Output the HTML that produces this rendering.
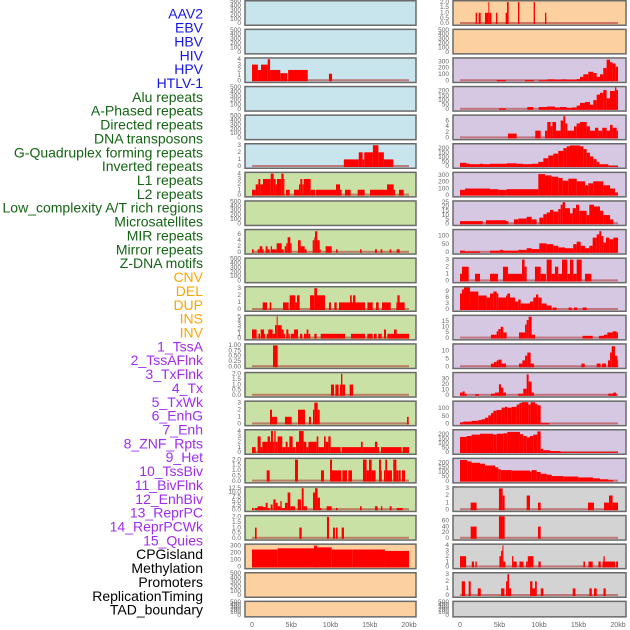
<!DOCTYPE html>
<html><head><meta charset="utf-8"><style>
html,body{margin:0;padding:0;background:#fff;width:630px;height:630px;overflow:hidden}
svg{display:block;font-family:"Liberation Sans",sans-serif}
</style></head><body>
<svg id="chart" width="630" height="630" viewBox="0 0 630 630"></svg>
<script>
const trackNames=["AAV2","EBV","HBV","HIV","HPV","HTLV-1","Alu repeats","A-Phased repeats","Directed repeats","DNA transposons","G-Quadruplex forming repeats","Inverted repeats","L1 repeats","L2 repeats","Low_complexity A/T rich regions","Microsatellites","MIR repeats","Mirror repeats","Z-DNA motifs","CNV","DEL","DUP","INS","INV","1_TssA","2_TssAFlnk","3_TxFlnk","4_Tx","5_TxWk","6_EnhG","7_Enh","8_ZNF_Rpts","9_Het","10_TssBiv","11_BivFlnk","12_EnhBiv","13_ReprPC","14_ReprPCWk","15_Quies","CPGisland","Methylation","Promoters","ReplicationTiming","TAD_boundary"];
const trackGroups=[0,0,0,0,0,0,1,1,1,1,1,1,1,1,1,1,1,1,1,2,2,2,2,2,3,3,3,3,3,3,3,3,3,3,3,3,3,3,3,4,4,4,4,4];
const xTicks=[0,5,10,15,20];
const xTickLabels=["0","5kb","10kb","15kb","20kb"];
// segments: [startKb, endKb, value]
const L2=[[0,0.75,3],[0.75,1.15,2],[1.15,2,3],[2,2.3,4],[2.3,3.6,2],[3.6,4.5,1.4],[4.6,7.1,2],[9.8,10.2,1.3]];
const L5=[[11.7,13.6,1],[13.6,14.1,2],[14.1,14.3,1],[14.3,15.4,2],[15.4,16.1,3],[16.1,16.8,2],[16.8,18,1]];
const L6=[[0,0.47,1],[0.47,0.81,2],[0.81,1.06,3],[1.06,1.4,2],[1.4,2.38,3],[2.38,2.76,4],[2.76,3.02,3],[3.02,3.18,2],[3.18,3.74,3],[3.74,4.03,4],[4.03,4.12,3],[4.33,4.8,1],[5.35,5.99,1],[5.99,6.16,2],[6.16,6.41,3],[6.41,6.58,2],[6.58,7.47,3],[7.47,8.03,1],[8.15,10.7,1],[10.7,11.21,2],[11.21,11.42,1],[11.85,12.57,1],[13.46,14.35,1],[15.03,17.2,1],[17.2,18.05,2],[18.05,18.22,1],[18.73,19.32,1]];
const L8=[[0,0.21,1],[0.72,0.98,1],[0.98,1.32,2],[1.32,1.49,1],[1.74,1.99,2],[1.99,2.25,1],[2.38,2.55,2],[2.55,3.14,1],[3.14,3.78,3],[3.78,4.03,1],[4.16,4.37,2],[4.37,4.54,3],[4.54,4.88,5],[4.88,5.05,3],[5.86,6.2,4],[6.2,6.71,2],[6.71,6.96,1],[7.73,7.94,4],[7.94,8.03,5],[8.03,8.32,7],[8.32,8.62,4],[8.62,8.75,1],[9.38,10.15,2],[10.7,10.91,1],[13.76,13.97,1],[15.67,15.92,1],[16.39,16.6,1],[17.54,17.75,1],[18.43,18.81,1]];
const L10=[[1.36,1.91,1],[2.25,2.46,1],[3.95,4.67,1],[4.8,5.52,2],[5.52,5.73,1],[5.73,6.07,2],[7.39,7.94,2],[7.94,8.28,3],[8.28,8.66,2],[8.66,9.3,2],[9.81,10.06,1],[10.49,10.79,1],[11.08,12.87,1],[12.49,12.7,2],[12.87,14.4,1],[12.87,13.17,2],[14.7,15.38,1],[15.8,16.14,1],[16.56,17.67,1],[18.39,19.45,1],[18.52,18.81,2]];
const L11=[[0,0.59,2],[0.81,1.02,1],[1.1,1.53,2],[1.53,1.66,1],[1.87,2.08,1],[2.08,2.63,2],[2.63,2.93,1],[2.93,3.14,3],[3.14,3.27,5],[3.27,3.78,3],[3.78,4.03,2],[4.03,4.2,1],[4.37,4.63,2],[4.63,4.8,1],[4.93,5.35,1],[5.35,5.86,2],[6.11,6.41,1],[6.62,6.96,1],[6.96,7.18,2],[7.18,7.43,1],[7.94,8.24,1],[8.75,11.85,1],[12.61,14.4,1],[14.69,15.37,1],[15.54,15.88,1],[16.09,16.52,1],[16.81,17.07,2],[17.24,17.79,1],[17.79,20,1],[18.09,18.43,2]];
const L12=[[2.68,3.27,1]];
const L13=[[10.06,10.45,1],[10.62,11.04,1],[11.21,11.34,1],[11.34,11.51,2],[11.51,11.85,1],[12.44,12.87,1]];
const L14=[[2.29,2.55,2],[2.55,2.8,1],[2.8,3.18,1],[4.2,5.05,1],[5.86,6.75,2],[7.26,7.52,1],[7.77,7.94,2],[7.94,8.37,3],[8.37,8.62,2],[19.75,19.96,1]];
const L15=[[0,0.47,1],[0.72,1.1,3],[1.1,1.32,1],[1.32,1.99,2],[1.99,2.29,3],[2.29,2.42,2],[2.42,2.67,4],[2.67,2.84,2],[2.84,3.01,4],[3.01,3.27,2],[3.27,3.86,3],[3.86,4.29,1],[4.29,4.54,2],[4.54,4.76,1],[4.76,5.18,3],[5.18,5.56,1],[5.6,5.99,2],[5.99,6.58,4],[6.58,6.92,2],[6.92,7.18,1],[7.18,8.24,2],[8.24,8.45,3],[8.45,9.17,1],[9.17,9.38,3],[9.38,9.72,2],[9.72,10.02,3],[10.02,11.29,1],[11.42,13.88,1],[13.88,14.1,2],[14.1,15.67,1],[15.67,15.97,2],[15.97,16.18,1],[16.43,19.06,1],[19.19,20,1]];
const L16=[[1.87,2.25,1],[5.48,5.86,2],[8.79,9.17,1],[9.94,10.19,2],[10.19,11.38,1],[11.51,12.1,1],[12.27,12.74,1],[14.14,14.6,2],[14.6,14.9,1],[14.9,15.24,2],[15.24,15.75,1],[16.18,16.43,2],[16.43,16.52,1],[16.81,16.98,1],[16.98,17.2,2],[17.2,17.83,1],[18.0,18.39,2],[18.39,18.64,1],[18.68,18.94,1],[19.11,19.49,1]];
const L17=[[0,0.21,1],[0.38,0.72,1],[0.72,1.4,2],[1.4,1.74,1.5],[1.74,1.99,4],[1.99,2.25,1],[2.38,2.63,3],[2.72,3.01,6],[3.01,3.27,4],[3.27,3.61,2],[3.61,3.78,5],[3.78,4.2,1],[4.2,4.54,4],[4.54,4.88,10],[4.88,5.48,2],[5.82,6.24,6],[6.33,6.58,12.5],[6.58,7.01,2],[7.77,8.03,10],[8.03,8.36,12.5],[8.36,8.66,7],[8.66,8.79,1],[9.51,10.15,2],[10.7,10.91,1],[13.76,13.97,2],[15.67,16.01,2],[16.43,16.6,2],[17.54,17.79,2],[18.43,19.19,1]];
const L18=[[0.38,0.59,1],[6.03,6.33,1],[9.55,9.81,2],[10.32,10.57,1],[10.7,10.91,1],[11.42,11.72,1]];
const L19=[[0,3.27,245],[3.27,8.15,262],[8.15,10.15,275],[7.9,8.3,300],[10.15,12.78,245],[12.78,16.94,245],[16.94,20,225]];
const R0=[[1.98,2.15,1],[2.36,2.62,1],[3.16,3.59,1],[3.59,3.71,2],[3.71,3.97,1],[4.56,4.73,1],[5.78,5.95,1],[5.95,6.16,2],[7.34,7.51,2],[9.32,9.49,2],[10.76,10.93,1]];
const R2=[[4.64,5.82,10],[8.23,9.36,10],[9.96,10.55,8],[10.55,11.05,8],[11.05,12.02,20],[12.02,12.87,15],[12.87,13.5,20],[13.5,14.77,15],[14.77,15.19,25],[15.19,15.61,60],[15.61,16.24,100],[16.24,16.87,140],[16.87,17.3,120],[17.3,17.72,60],[17.72,18.14,100],[18.14,18.56,200],[18.56,18.99,330],[18.99,19.32,290],[19.32,19.7,270],[19.7,20,220]];
const R3=[[4.93,5.82,10],[8.52,9.28,25],[9.96,10.97,25],[10.97,12.02,30],[12.02,12.65,20],[12.65,13.5,25],[13.5,14.13,15],[14.13,14.77,20],[14.77,15.19,40],[15.19,15.82,70],[15.82,16.45,80],[16.45,16.87,50],[16.87,17.3,100],[17.3,17.72,160],[17.72,18.14,180],[18.14,18.56,210],[18.56,18.99,120],[18.99,19.62,200],[19.62,19.8,240],[19.8,20,210]];
const R4=[[6.07,7.17,1.5],[9.53,10.21,2.5],[10.76,11.05,2.5],[11.05,11.47,5.5],[11.47,11.69,4],[11.69,12.15,5.5],[12.15,12.74,2.5],[12.74,13.08,6],[13.08,13.33,7.5],[13.33,13.58,5],[13.58,14.43,2.5],[14.43,14.77,4],[14.77,15.19,5],[15.19,16.03,5.5],[16.03,16.45,4],[16.45,17.09,2.5],[17.09,17.51,3.5],[17.51,18.01,2.5],[18.01,18.56,3.5],[18.56,18.99,2.5],[18.99,19.32,4.5],[19.32,19.83,3.5],[19.83,20,2.5]];
const R5=[[0,0.84,40],[0.84,1.26,30],[1.26,2.53,25],[2.53,2.95,30],[2.95,3.8,25],[3.8,5.9,30],[5.9,7.17,35],[7.17,8.01,30],[8.01,9.07,25],[9.07,9.91,30],[9.91,10.55,50],[10.55,11.18,90],[11.18,11.81,120],[11.81,12.44,140],[12.44,13.08,170],[13.08,13.5,200],[13.5,13.92,220],[13.92,15.19,230],[15.19,15.61,220],[15.61,16.03,190],[16.03,16.45,150],[16.45,16.87,110],[16.87,17.3,80],[17.3,17.63,50],[17.63,18.77,25],[18.77,20,5]];
const R6=[[0,0.63,80],[0.63,3.8,100],[3.8,4.85,90],[4.85,5.9,80],[5.9,9.91,90],[9.91,10.76,320],[10.76,11.6,300],[11.6,12.44,280],[12.44,12.99,260],[12.99,13.71,220],[13.71,14.77,250],[14.77,15.82,210],[15.82,16.24,150],[16.24,16.87,180],[16.87,18.14,210],[18.14,18.99,150],[18.99,19.62,100],[19.62,20,40]];
const R7=[[0,2.87,3],[3.29,5.82,4],[5.82,6.12,3],[6.83,7.38,5],[7.38,8.44,6],[8.44,9.07,8],[9.07,9.7,5],[10.04,10.55,7],[10.55,10.97,11],[10.97,11.39,13],[11.39,11.81,16],[11.81,12.44,14],[12.44,12.74,17],[12.74,12.99,22],[12.99,13.29,25],[13.29,13.92,18],[13.92,14.26,12],[14.26,14.68,18],[14.68,15.1,22],[15.1,16.03,15],[16.03,16.37,10],[16.37,16.96,22],[16.96,17.72,20],[17.72,18.14,15],[18.14,18.99,10],[18.99,19.41,5]];
const R8=[[0,0.63,10],[0.63,2.53,5],[3.8,5.06,10],[5.06,5.48,15],[5.48,7.38,10],[7.38,8.44,15],[8.44,9.07,25],[9.07,10.04,20],[10.04,10.97,55],[10.97,11.81,50],[11.81,12.44,40],[12.44,13.29,30],[13.29,14.34,25],[14.34,14.77,50],[14.77,15.27,65],[15.27,15.82,40],[15.82,16.37,25],[16.37,16.79,40],[16.79,17.3,90],[17.3,17.63,110],[17.63,17.89,130],[17.89,18.14,100],[18.14,18.48,60],[18.48,18.9,90],[18.9,19.41,80],[19.41,20,90]];
const R9=[[0,0.25,1],[0.25,1.1,2],[1.9,2.53,1],[3.8,4.8,1],[5.44,6.07,2],[6.07,7.85,1],[7.85,8.18,3],[8.18,8.44,2],[9.49,10.21,2],[10.21,10.88,1],[10.97,11.6,3],[11.6,12.02,1],[12.02,12.44,2],[12.44,12.91,1],[12.91,13.58,3],[13.58,13.92,1],[13.92,14.34,3],[14.34,14.77,1],[14.77,15.4,3],[15.82,16.62,1]];
const R10=[[0,0.25,8],[0.25,0.5,10],[0.5,1.26,11],[1.26,2.32,9],[2.32,3.37,7],[3.37,3.8,6],[3.8,4.22,8],[4.22,4.64,9],[4.64,4.85,8],[4.85,5.82,6],[5.82,5.99,7],[5.99,6.33,8],[6.33,6.96,6],[6.96,7.38,4],[7.38,7.68,5],[7.68,8.86,3],[8.86,9.28,4],[9.28,9.62,6],[9.62,9.91,7.5],[9.91,10.33,6],[10.33,10.97,3],[10.97,11.6,2],[11.73,12.23,1],[13.75,14.13,1],[14.43,14.85,1],[15.52,16.03,1]];
const R11=[[3.92,4.64,3],[4.64,4.85,6],[4.85,5.15,8],[5.15,5.48,10],[5.48,5.9,5],[7.47,8.23,5],[8.23,8.44,12],[8.44,8.69,16],[8.69,9.07,19],[9.07,9.49,3],[15.52,16.79,2],[17.59,18.23,2],[18.23,18.65,3],[18.65,19.32,5],[19.32,19.83,6],[19.83,20,5]];
const R12=[[3.92,4.3,2],[4.3,4.64,3],[4.64,4.85,4],[4.85,5.27,4.5],[5.27,5.82,2],[7.47,7.89,2],[7.89,8.23,4],[8.23,8.52,7],[8.52,8.94,9],[8.94,9.36,2],[15.36,15.78,2],[17.3,17.8,2],[17.97,18.48,2],[18.73,18.99,4],[18.99,19.2,9],[19.2,19.62,13],[19.62,19.91,7],[19.91,20,4]];
const R13=[[0,0.33,5],[0.33,0.59,7],[0.59,0.84,3],[1.9,2.4,2],[3.92,4.43,3],[4.43,4.93,5],[4.93,5.19,20],[5.19,5.48,14],[5.48,5.82,5],[7.38,8.01,3],[8.01,8.44,12],[8.44,8.69,38],[8.69,9.07,25],[9.07,9.36,5],[18.77,19.83,3],[19.41,19.74,5]];
const R14=[[0,0.42,10],[0.42,1.47,15],[1.47,2.32,20],[2.32,2.74,25],[2.74,3.16,30],[3.16,3.58,40],[3.58,3.92,55],[3.92,4.22,70],[4.22,4.64,85],[4.64,5.27,90],[5.27,5.69,105],[5.69,5.99,110],[5.99,6.54,105],[6.54,7.17,110],[7.17,7.51,125],[7.51,7.8,135],[7.8,8.65,140],[8.65,8.94,125],[8.94,9.49,140],[9.49,9.79,130],[9.79,10.21,120],[10.21,11.31,5]];
const R15=[[0,0.84,170],[0.84,1.47,180],[1.47,2.53,195],[2.53,4.22,205],[4.22,4.64,195],[4.64,5.48,205],[5.48,5.99,210],[5.99,7.59,225],[7.59,8.01,200],[8.01,8.44,180],[8.44,8.86,165],[8.86,9.28,180],[9.28,9.79,195],[9.79,10.21,230],[10.21,10.55,40],[10.55,11.39,25],[11.39,12.74,15],[12.74,20,3]];
const R16=[[0,0.93,230],[0.93,1.47,215],[1.47,2.53,200],[2.53,3.16,190],[3.16,4.43,170],[4.43,4.85,150],[4.85,5.15,130],[5.15,6.54,120],[6.54,8.86,115],[8.86,9.07,105],[9.07,9.7,120],[9.7,10.21,100],[10.21,10.97,80],[10.97,11.6,70],[11.6,13.08,55],[13.08,14.98,50],[14.98,16.87,40],[16.87,17.72,30],[17.72,18.77,20],[18.77,19.41,10]];
const R17=[[1.35,2.1,1],[4.93,5.4,3],[5.4,5.65,2],[8.44,8.86,2],[9.87,10.21,1],[16.2,16.96,1],[18.23,18.86,1],[18.86,19.32,2],[19.32,20,1]];
const R18=[[1.35,2.1,40],[4.93,5.65,75],[9.87,10.21,40]];
const R19=[[0,0.77,2],[1.49,1.78,1],[1.95,2.12,1],[4.99,5.2,2],[5.2,5.37,3],[5.37,5.5,4],[5.5,5.75,1],[6.59,6.76,2],[6.76,7.18,1],[7.52,8.03,1],[8.37,8.58,1],[8.58,9.29,2],[9.93,10.22,1],[15.62,15.83,1],[16.26,16.8,1],[17.52,17.82,1],[18.16,18.32,2],[18.03,19.63,1],[19.76,20,1]];
const R20=[[0.22,0.64,2],[1.1,1.36,2],[2.25,2.63,1],[5.2,5.62,1],[5.83,6.0,2],[6.0,6.21,3],[6.21,6.47,1],[8.87,9.17,2],[9.17,9.5,1],[9.5,9.72,2],[10.22,10.56,1],[14.27,14.61,1],[16.38,16.68,1],[16.97,17.31,1],[18.16,18.45,1]];
const EMPTY_T=[0,100,200,300,400,500];
const T3=[0,1,2,3], T4=[0,1,2,3,4], T5=[0,1,2,3,4,5], T2h=[0,0.5,1,1.5,2];
// [segments, bg, ymax, ticks, decimals]
const leftPanels=[[null,"b",500,EMPTY_T,0],[null,"b",500,EMPTY_T,0],[L2,"b",4.1,T4,0],[null,"b",500,EMPTY_T,0],[null,"b",500,EMPTY_T,0],[L5,"b",3.1,T3,0],[L6,"g",4.1,T4,0],[null,"g",500,EMPTY_T,0],[L8,"g",7.3,[0,2,4,6],0],[null,"g",500,EMPTY_T,0],[L10,"g",3.1,T3,0],[L11,"g",5.1,T5,0],[L12,"g",1.03,[0,0.25,0.5,0.75,1],2],[L13,"g",2.05,T2h,1],[L14,"g",3.1,T3,0],[L15,"g",4.1,T4,0],[L16,"g",2.05,T2h,1],[L17,"g",12.8,[0,2.5,5,7.5,10,12.5],1],[L18,"g",2.05,T2h,1],[L19,"o",310,[0,100,200,300],0],[null,"o",500,EMPTY_T,0],[null,"o",500,EMPTY_T,0]];
const rightPanels=[[R0,"o",2.05,T2h,1],[null,"o",500,EMPTY_T,0],[R2,"p",345,[0,100,200,300],0],[R3,"p",240,[0,50,100,150,200],0],[R4,"p",7.6,[0,2,4,6],0],[R5,"p",240,[0,50,100,150,200],0],[R6,"p",335,[0,100,200,300],0],[R7,"p",25.5,[0,5,10,15,20,25],0],[R8,"p",135,[0,50,100],0],[R9,"p",3.1,T3,0],[R10,"p",11,[0,3,6,9],0],[R11,"p",19.5,[0,5,10,15],0],[R12,"p",14,[0,5,10],0],[R13,"p",40,[0,10,20,30],0],[R14,"p",142,[0,50,100],0],[R15,"p",240,[0,50,100,150,200],0],[R16,"p",240,[0,50,100,150,200],0],[R17,"k",3.1,T3,0],[R18,"k",75,[0,20,40,60],0],[R19,"k",4.1,T4,0],[R20,"k",3.1,T3,0],[null,"k",500,EMPTY_T,0]];

const NS="http://www.w3.org/2000/svg";
const svg=document.getElementById("chart");
const BG={b:"#c8e4ec",g:"#c9e1a5",o:"#fdd09f",p:"#d6c8e2",k:"#d3d3d3"};
const GROUPCOL=["#1515e6","#146414","#ffa500","#a02cf0","#000000"];
function mk(tag,attrs){const e=document.createElementNS(NS,tag);for(const k in attrs)e.setAttribute(k,attrs[k]);return e;}

trackNames.forEach((t,i)=>{
  const el=mk("text",{x:203,y:15+i*13.86,"text-anchor":"end","dominant-baseline":"middle","font-size":14,fill:GROUPCOL[trackGroups[i]]});
  el.textContent=t;
  
  
  svg.appendChild(el);
});

function drawColumn(panels,side){
  const px=side==="left"?245:453, pw=side==="left"?171:173;
  const x0=side==="left"?252:460, x1=side==="left"?409:618;
  const xs=kb=>x0+(kb/20)*(x1-x0);
  const tickX=side==="left"?241:449;
  panels.forEach((p,i)=>{
    const [segs,bg,ymax,ticks,dec]=p;
    const top=i*28.6, h=(i===21)?16:25;
    const g=mk("g",{});
    
    
    svg.appendChild(g);
    const fr=mk("rect",{x:px,y:top+0.75,width:pw,height:h-0.5,fill:BG[bg],stroke:"#6a6a6a","stroke-width":1.5});
    
    
    g.appendChild(fr);
    const zero=top+h-1.5, span=h-3;
    const ys=v=>zero-(v/ymax)*span;
    ticks.forEach(tv=>{
      const tt=mk("text",{x:tickX,y:ys(tv),"text-anchor":"end","dominant-baseline":"middle","font-size":6.5,fill:"#666"});
      tt.textContent=tv.toFixed(dec);
      
      
      g.appendChild(tt);
    });
    if(segs){
      const bl=mk("rect",{x:xs(0),y:zero-1.5,width:xs(20)-xs(0),height:2,fill:"#b03a3a","fill-opacity":0.6});
      
      
      g.appendChild(bl);
      segs.forEach(s=>{
        const y=ys(s[2]);
        const r=mk("rect",{x:xs(s[0]),y:y,width:Math.max(0.8,xs(s[1])-xs(s[0])),height:zero+0.5-y,fill:"#ff0000"});
        
        
        g.appendChild(r);
      });
    }
  });
  xTicks.forEach((kb,j)=>{
    const t=mk("text",{x:xs(kb),y:627,"text-anchor":"middle","font-size":7,fill:"#666"});
    t.textContent=xTickLabels[j];
    
    
    svg.appendChild(t);
  });
}
drawColumn(leftPanels,"left");
drawColumn(rightPanels,"right");
</script>
</body></html>
